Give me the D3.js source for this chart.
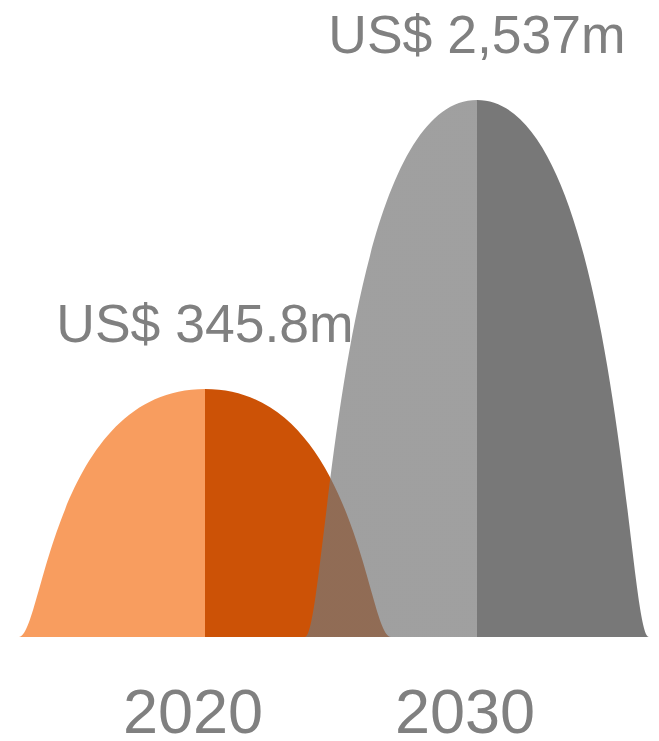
<!DOCTYPE html>
<html>
<head>
<meta charset="utf-8">
<script src="https://cdn.jsdelivr.net/npm/d3@7"></script>
<style>
  html, body { margin: 0; padding: 0; background: #fff; }
  svg { display: block; }
  text { font-family: "Liberation Sans", Arial, sans-serif; fill: #808080; }
</style>
</head>
<body>
<svg id="chart" width="659" height="741"></svg>
<script>
// ---- data ----
const years = ["2020", "2030"];
const values = [345.8, 2537];
const valueLabels = ["US$ 345.8m", "US$ 2,537m"];

// ---- styles ----
const lightColors = ["#F89D5F", "#777777"];
const lightOpacity = [1, 0.7];
const darkColors = ["#CC5206", "#787878"];
const halfWidths = [186, 172];

const baseY = 637;

const svg = d3.select("#chart");

const x = d3.scalePoint().domain(years).range([205, 477]);
const y = d3.scalePow().exponent(0.3877).domain([0, 2537]).range([baseY, 100]);

const defs = svg.append("defs");
years.forEach((yr, i) => {
  const g = defs.append("linearGradient")
    .attr("id", "grad" + i)
    .attr("x1", 0).attr("x2", 1).attr("y1", 0).attr("y2", 0);
  g.append("stop").attr("offset", 0).attr("stop-color", lightColors[i]).attr("stop-opacity", lightOpacity[i]);
  g.append("stop").attr("offset", 0.5).attr("stop-color", lightColors[i]).attr("stop-opacity", lightOpacity[i]);
  g.append("stop").attr("offset", 0.5).attr("stop-color", darkColors[i]).attr("stop-opacity", 1);
  g.append("stop").attr("offset", 1).attr("stop-color", darkColors[i]).attr("stop-opacity", 1);
});

const a = 0.127, b = 0.18;
function bell(cx, hw, base, top) {
  const p = d3.path();
  const l = cx - hw, r = cx + hw;
  p.moveTo(l, base);
  p.bezierCurveTo(l + a * hw, base, l + b * hw, top, cx, top);
  p.bezierCurveTo(r - b * hw, top, r - a * hw, base, r, base);
  p.closePath();
  return p.toString();
}

years.forEach((yr, i) => {
  svg.append("path")
    .attr("d", bell(x(yr), halfWidths[i], y(0), y(values[i])))
    .attr("fill", `url(#grad${i})`);
});

years.forEach((yr, i) => {
  svg.append("text")
    .attr("x", x(yr))
    .attr("y", y(values[i]) - 47)
    .attr("text-anchor", "middle")
    .attr("font-size", 53.5)
    .text(valueLabels[i]);
  svg.append("text")
    .attr("x", x(yr) - 12)
    .attr("y", 733)
    .attr("text-anchor", "middle")
    .attr("font-size", 63)
    .text(yr);
});
</script>
</body>
</html>
